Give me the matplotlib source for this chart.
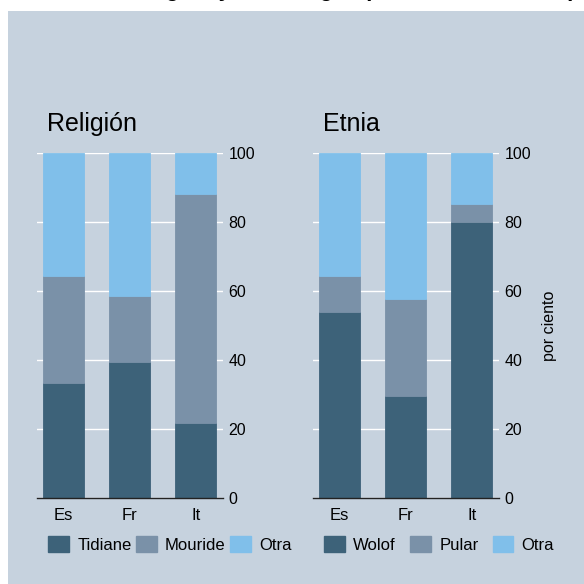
import matplotlib
matplotlib.use("Agg")
import matplotlib.pyplot as plt
from matplotlib.patches import Rectangle, Patch
import numpy as np

plt.rcParams['font.family'] = ['Liberation Sans', 'DejaVu Sans']

# ---- data ----
countries = ["Es", "Fr", "It"]
religion_labels = ["Tidiane", "Mouride", "Otra"]
tidiane = [33.3, 39.4, 21.7]
mouride = [31.0, 19.2, 66.4]
otra_rel = [35.7, 41.4, 11.9]

etnia_labels = ["Wolof", "Pular", "Otra"]
wolof = [53.9, 29.6, 80.0]
pular = [10.4, 28.1, 5.2]
otra_etn = [35.7, 42.3, 14.8]

yticks = [0, 20, 40, 60, 80, 100]
panel_titles = ["Religión", "Etnia"]
ylabel = "por ciento"
main_title = "Religión y etnia según país de residencia (%)"

# ---- style ----
BG = "#c6d2de"
C_DARK = "#3d6279"
C_MID = "#7a91a8"
C_LIGHT = "#80bfea"
colors = [C_DARK, C_MID, C_LIGHT]

W = H = 584
fig = plt.figure(figsize=(5.84, 5.84), dpi=100, facecolor="white")
bg = Rectangle((8 / W, 0), 1 - 8 / W, 1 - 11 / H,
               transform=fig.transFigure, facecolor=BG,
               edgecolor="none", zorder=-10)
fig.patches.append(bg)

fig.text(125 / W, 1.0 + 4 / H, main_title, ha="left", va="baseline",
         fontsize=16, fontweight="bold", color="black", zorder=-5)

def px_axes(x0, x1, ytop, ybot):
    return [x0 / W, 1 - ybot / H, (x1 - x0) / W, (ybot - ytop) / H]

axes = [fig.add_axes(px_axes(37, 223, 153, 498)),
        fig.add_axes(px_axes(313, 499, 153, 498))]

datasets = [
    (religion_labels, [tidiane, mouride, otra_rel]),
    (etnia_labels, [wolof, pular, otra_etn]),
]

x = np.arange(len(countries))
for i, (ax, (labels, series), title) in enumerate(zip(axes, datasets, panel_titles)):
    ax.set_facecolor("none")
    bottom = np.zeros(len(countries))
    handles = []
    for lab, vals, col in zip(labels, series, colors):
        ax.bar(x, vals, width=0.62, bottom=bottom, color=col,
               edgecolor=col, linewidth=0.6, zorder=3, label=lab)
        bottom += np.array(vals)
        handles.append(Patch(facecolor=col, edgecolor=col, label=lab))
    ax.set_xlim(-0.405, 2.415)
    ax.set_ylim(0, 100)
    ax.set_xticks(x)
    ax.set_xticklabels(countries, fontsize=12)
    ax.set_yticks(yticks)
    ax.yaxis.tick_right()
    ax.tick_params(axis="y", length=0, pad=4, labelsize=11.5)
    ax.tick_params(axis="x", length=0, pad=7)
    for s in ["top", "left", "right"]:
        ax.spines[s].set_visible(False)
    ax.spines["bottom"].set_color("#222222")
    ax.spines["bottom"].set_linewidth(1.0)
    ax.spines["bottom"].set_zorder(5)
    ax.grid(axis="y", color="white", linewidth=1.0, zorder=1)
    ax.grid(axis="x", visible=False)
    ax.set_axisbelow(True)
    ax.text(0.055, 1.085, title, transform=ax.transAxes, fontsize=18,
            ha="left", va="center")
    if i == 1:
        ax.yaxis.set_label_position("right")
        ax.set_ylabel(ylabel, fontsize=11.5, labelpad=8)
    cs = 0.26 if i == 0 else 0.85
    lx = 48 if i == 0 else 324
    fig.legend(handles=handles, loc="upper left",
               bbox_to_anchor=(lx / W, 1 - 536 / H), ncol=3,
               frameon=False, fontsize=12, handlelength=1.25,
               handleheight=1.1, handletextpad=0.5,
               columnspacing=cs, borderpad=0, borderaxespad=0)

fig.savefig("out.png", dpi=100, facecolor="white")
